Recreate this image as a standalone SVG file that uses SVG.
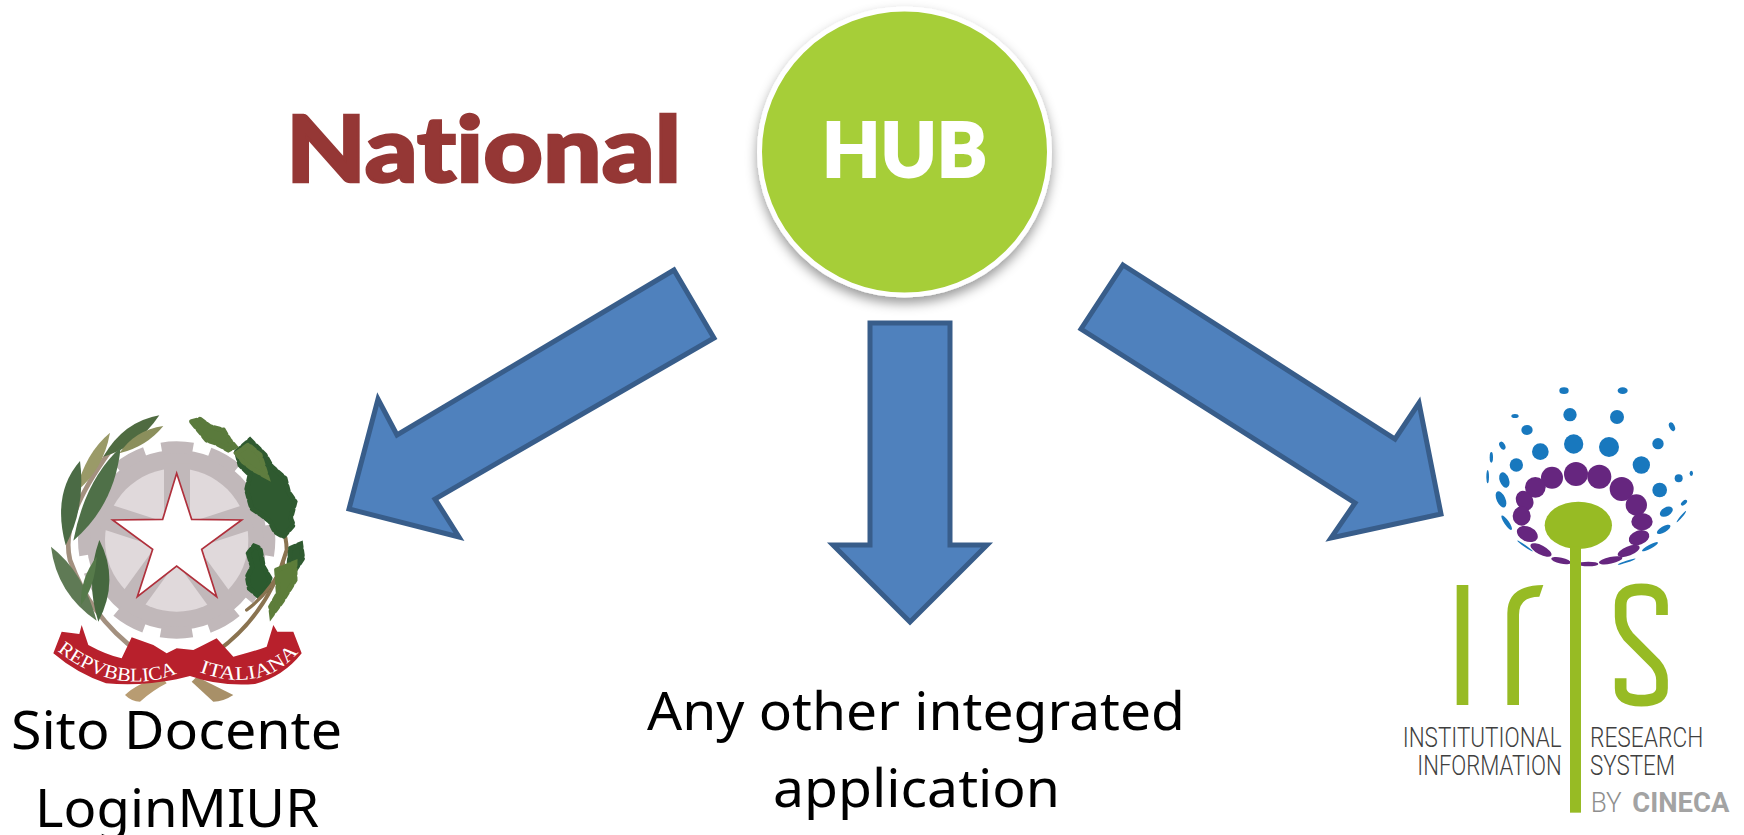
<svg xmlns="http://www.w3.org/2000/svg" width="1744" height="835" viewBox="0 0 1744 835">
<style>
.arrow{fill:#4f81bd;stroke:#385d8a;stroke-width:5;stroke-linejoin:miter;stroke-miterlimit:3}
.label{font-family:"Noto Sans","Open Sans",sans-serif;font-size:53px;fill:#000}
.title{font-family:Lato,"Liberation Sans",sans-serif;font-weight:900;fill:#953735;stroke:#953735;stroke-width:2.5;font-size:92px;font-variant-ligatures:none}
.hub{font-family:Lato,"Liberation Sans",sans-serif;font-weight:900;fill:#fff;stroke:#fff;stroke-width:2;font-size:76px}
.rib{font-family:"Liberation Serif",serif;fill:#fff;font-size:58px}
.iris{font-family:Roboto,"Liberation Sans",sans-serif;font-weight:300;font-size:84px;fill:#3f3f3f}
.blue{fill:#1878be}.pur{fill:#66267f}.grn{fill:#97bb24}
.stem{fill:none;stroke-linecap:round}
.oak{stroke-width:15;stroke-dasharray:15 11;stroke-linecap:round}
</style>
<defs>
<filter id="sh" x="-20%" y="-20%" width="140%" height="140%"><feDropShadow dx="0" dy="6" stdDeviation="6" flood-color="#000" flood-opacity=".4"/></filter>
<path id="rp1" d="M112 782Q300 930 490 842"/>
<path id="rp2" d="M538 846Q725 915 840 782"/>
</defs>
<rect width="1744" height="835" fill="#fff"/>
<g id="connectors">
<polygon class="arrow" points="674,270 714,338 435,499 459,537 349,509 378,399 397,435"/>
<polygon class="arrow" points="870,323 950,323 950,545 987,545 910,622 833,545 870,545"/>
<polygon class="arrow" points="1123,265 1395,439 1419,403 1441,514 1331,538 1355,503 1081,329"/>
</g>
<g id="title-national"><text class="title" x="286" y="182" textLength="395" lengthAdjust="spacingAndGlyphs">National</text></g>
<g id="node-hub">
<ellipse cx="904.5" cy="152" rx="145" ry="143" fill="#a6ce39" stroke="#fff" stroke-width="5" filter="url(#sh)"/>
<text class="hub" x="822" y="177" textLength="165" lengthAdjust="spacingAndGlyphs">HUB</text>
</g>
<g id="node-miur">
<g transform="translate(20,390) scale(.33333)">
<circle cx="470" cy="450" r="270" fill="#c1b8ba"/>
<circle cx="470" cy="450" r="278" fill="none" stroke="#c1b8ba" stroke-width="36" pathLength="240" stroke-dasharray="13 7" stroke-dashoffset="6.5"/>
<circle cx="470" cy="450" r="215" fill="#e0d9db"/>
<g fill="#c1b8ba">
<rect x="432" y="220" width="78" height="230"/>
<rect x="432" y="220" width="78" height="230" transform="rotate(72 470 450)"/>
<rect x="432" y="220" width="78" height="230" transform="rotate(144 470 450)"/>
<rect x="432" y="220" width="78" height="230" transform="rotate(216 470 450)"/>
<rect x="432" y="220" width="78" height="230" transform="rotate(288 470 450)"/>
</g>
<polygon points="470,250 515,388 665,390 545,478 590,620 470,528 352,620 398,478 278,390 428,388" fill="#fff" stroke="#b0303c" stroke-width="5"/>
<path class="stem" d="M360 790C250 710 190 620 150 510C130 430 165 330 265 190" stroke="#a3907f" stroke-width="14"/>
<path class="stem" d="M590 785C680 720 760 620 800 480C800 420 770 370 750 330" stroke="#8a7350" stroke-width="12"/>
<path d="M418 76Q310 95 250 200Q355 170 418 76Z" fill="#4f6b41"/>
<path d="M430 108Q345 120 298 190Q380 170 430 108Z" fill="#8b8f5c"/>
<path d="M270 128Q195 190 168 305Q250 240 270 128Z" fill="#9a9a68"/>
<path d="M302 172Q195 270 160 452Q285 345 302 172Z" fill="#4f7048"/>
<path d="M180 213Q95 310 137 466Q198 350 180 213Z" fill="#4b6b45"/>
<path d="M93 470Q110 610 230 692Q190 545 93 470Z" fill="#5f7a55"/>
<path d="M238 450Q195 570 235 695Q300 570 238 450Z" fill="#46683f"/>
<path d="M230 500Q180 565 183 645Q225 590 230 500Z" fill="#567a4a"/>
<path class="oak" d="M650 185L690 150L735 195L755 230L795 265L805 305L825 335L812 385L820 405L790 440L765 425L750 395L725 375L695 355L680 300L690 255L660 225Z" fill="#2f5a30" stroke="#2f5a30"/>
<path class="oak" d="M515 95L540 88L570 110L610 120L628 150L645 170L625 180L590 160L560 150L540 125Z" fill="#5a7a3c" stroke="#5a7a3c"/>
<path class="oak" d="M650 190L685 165L720 195L740 260L700 238L670 215Z" fill="#5f7d3f" stroke="#5f7d3f"/>
<path class="oak" d="M685 490L702 468L720 475L730 530L750 565L745 595L715 618L688 595L682 560L697 530Z" fill="#2b5a2e" stroke="#2b5a2e"/>
<path class="oak" d="M812 475L842 462L848 505L830 532L808 515Z" fill="#2f5a30" stroke="#2f5a30"/>
<path class="stem" d="M680 660C720 630 760 590 790 520" stroke="#8a7350" stroke-width="10"/>
<path class="oak" d="M770 540L800 528L825 518L825 570L785 635L755 675L752 650L775 610Z" fill="#5d7d3a" stroke="#5d7d3a"/>
<path d="M315 915Q350 880 425 860L440 880Q400 900 360 935Q335 935 315 915Z" fill="#b89c72"/>
<path d="M530 860L640 915Q610 935 580 935L515 875Z" fill="#a89068"/>
<path d="M100 790L125 725L178 732L185 705L205 765Q260 795 305 805L335 742L400 765L440 790L470 775L520 780L540 770L590 745L640 800Q700 785 740 770L760 705L772 725L820 725L845 790Q790 860 705 882Q600 890 510 858L470 868Q360 890 258 880Q170 850 100 790Z" fill="#b8202c"/>
<text class="rib"><textPath href="#rp1" textLength="385" lengthAdjust="spacingAndGlyphs">REPVBBLICA</textPath></text>
<text class="rib"><textPath href="#rp2" textLength="325" lengthAdjust="spacingAndGlyphs">ITALIANA</textPath></text>
</g>
<text class="label" x="11" y="749" textLength="331" lengthAdjust="spacingAndGlyphs">Sito Docente</text>
<text class="label" x="35" y="827" textLength="284" lengthAdjust="spacingAndGlyphs">LoginMIUR</text>
</g>
<g id="node-other">
<text class="label" x="647" y="730" textLength="538" lengthAdjust="spacingAndGlyphs">Any other integrated</text>
<text class="label" x="773" y="807" textLength="287" lengthAdjust="spacingAndGlyphs">application</text>
</g>
<g id="node-iris">
<g transform="translate(1380,370) scale(.33333)">
<g class="blue">
<ellipse cx="552" cy="62" rx="14" ry="10"/><ellipse cx="728" cy="62" rx="15" ry="10"/>
<circle cx="570" cy="134" r="20"/><circle cx="711" cy="141" r="21"/>
<ellipse cx="405" cy="138" rx="11" ry="6"/><ellipse cx="876" cy="170" rx="8" ry="14" transform="rotate(-25 876 170)"/>
<ellipse cx="441" cy="180" rx="17" ry="15"/><circle cx="581" cy="222" r="29"/><circle cx="687" cy="231" r="30"/>
<circle cx="481" cy="245" r="25"/><circle cx="834" cy="221" r="17"/><circle cx="784" cy="285" r="26"/>
<ellipse cx="367" cy="227" rx="8" ry="13" transform="rotate(-30 367 227)"/><circle cx="409" cy="285" r="20"/>
<ellipse cx="334" cy="262" rx="5" ry="16"/><ellipse cx="373" cy="330" rx="14" ry="24" transform="rotate(-20 373 330)"/>
<ellipse cx="323" cy="320" rx="4" ry="20"/><ellipse cx="363" cy="388" rx="13" ry="26" transform="rotate(-25 363 388)"/>
<circle cx="896" cy="325" r="12"/><ellipse cx="934" cy="310" rx="5" ry="8"/><circle cx="839" cy="360" r="22"/>
<ellipse cx="859" cy="425" rx="21" ry="13" transform="rotate(-30 859 425)"/><ellipse cx="912" cy="398" rx="11" ry="6" transform="rotate(-40 912 398)"/>
<ellipse cx="851" cy="478" rx="23" ry="9" transform="rotate(-30 851 478)"/><ellipse cx="380" cy="458" rx="7" ry="26" transform="rotate(-35 380 458)"/>
<ellipse cx="810" cy="530" rx="27" ry="6" transform="rotate(-28 810 530)"/><ellipse cx="435" cy="528" rx="28" ry="3" transform="rotate(35 435 528)"/>
<ellipse cx="740" cy="575" rx="28" ry="3" transform="rotate(-18 740 575)"/><ellipse cx="904" cy="440" rx="22" ry="3" transform="rotate(-50 904 440)"/>
</g>
<g class="pur">
<circle cx="588" cy="312" r="36"/><circle cx="516" cy="323" r="33"/><circle cx="658" cy="320" r="36"/><circle cx="725" cy="357" r="36"/>
<circle cx="466" cy="352" r="31"/><ellipse cx="434" cy="392" rx="25" ry="31" transform="rotate(-30 434 392)"/><circle cx="769" cy="405" r="32"/>
<ellipse cx="425" cy="438" rx="27" ry="29"/><ellipse cx="786" cy="455" rx="32" ry="26"/>
<ellipse cx="442" cy="492" rx="33" ry="22" transform="rotate(25 442 492)"/><ellipse cx="777" cy="503" rx="32" ry="21" transform="rotate(-20 777 503)"/>
<ellipse cx="483" cy="540" rx="35" ry="14" transform="rotate(28 483 540)"/><ellipse cx="746" cy="543" rx="35" ry="14" transform="rotate(-22 746 543)"/>
<ellipse cx="543" cy="572" rx="30" ry="9" transform="rotate(12 543 572)"/><ellipse cx="692" cy="571" rx="36" ry="10" transform="rotate(-12 692 571)"/><ellipse cx="625" cy="582" rx="30" ry="7"/>
</g>
<g class="grn">
<ellipse cx="595" cy="466" rx="101" ry="71"/>
<rect x="570" y="530" width="33" height="798"/>
<rect x="230" y="645" width="35" height="360"/>
<path d="M382 1005V730Q382 645 490 645L478 680Q417 680 417 735V1005Z"/>
</g>
<path d="M846 735V705Q846 658 784 658Q722 658 722 705V740Q722 770 745 800L825 880Q846 905 846 930V955Q846 992 784 992Q722 992 722 955V925" fill="none" stroke="#97bb24" stroke-width="35"/>
<text class="iris" x="68" y="1130" textLength="477" lengthAdjust="spacingAndGlyphs">INSTITUTIONAL</text>
<text class="iris" x="112" y="1215" textLength="433" lengthAdjust="spacingAndGlyphs">INFORMATION</text>
<text class="iris" x="630" y="1130" textLength="340" lengthAdjust="spacingAndGlyphs">RESEARCH</text>
<text class="iris" x="630" y="1215" textLength="255" lengthAdjust="spacingAndGlyphs">SYSTEM</text>
<text class="iris" x="632" y="1325" textLength="93" lengthAdjust="spacingAndGlyphs" style="fill:#8e8e8e">BY</text>
<text class="iris" x="757" y="1325" textLength="291" lengthAdjust="spacingAndGlyphs" style="fill:#a3a3a3;font-weight:700">CINECA</text>
</g>
</g>
</svg>
